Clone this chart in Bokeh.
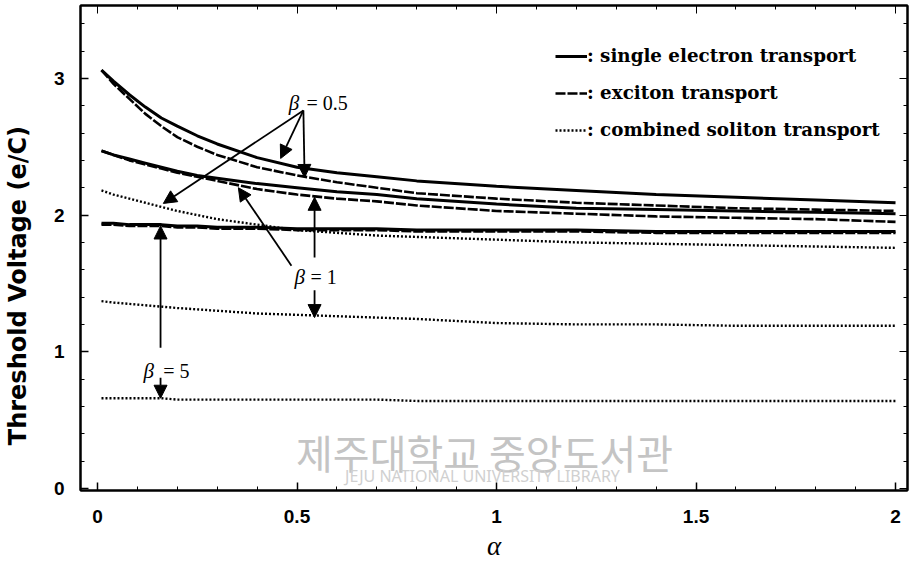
from bokeh.plotting import figure
from bokeh.models import (Range1d, LinearAxis, Label, Arrow, NormalHead, Legend,
                          LegendItem, FixedTicker, CustomLabelingPolicy)
from bokeh.embed import file_html
from bokeh.resources import INLINE

# ---- data ----
alpha = [0.01, 0.04, 0.08, 0.12, 0.16, 0.2, 0.25, 0.3, 0.4, 0.5, 0.6, 0.7, 0.8,
         1.0, 1.2, 1.4, 1.6, 1.8, 2.0]
single_b05 = [3.06, 2.98, 2.88, 2.79, 2.71, 2.65, 2.58, 2.52, 2.42, 2.35, 2.31, 2.28,
              2.25, 2.21, 2.18, 2.15, 2.13, 2.11, 2.09]
exciton_b05 = [3.06, 2.96, 2.85, 2.74, 2.65, 2.57, 2.50, 2.44, 2.35, 2.29, 2.24, 2.20,
               2.16, 2.12, 2.09, 2.07, 2.05, 2.04, 2.03]
single_b1 = [2.47, 2.44, 2.41, 2.38, 2.35, 2.32, 2.29, 2.27, 2.23, 2.20, 2.17, 2.15,
             2.12, 2.08, 2.05, 2.04, 2.03, 2.02, 2.01]
exciton_b1 = [2.47, 2.44, 2.40, 2.37, 2.34, 2.31, 2.28, 2.25, 2.19, 2.15, 2.12, 2.10,
              2.07, 2.03, 2.01, 1.99, 1.98, 1.97, 1.95]
combined_b05 = [2.18, 2.15, 2.12, 2.09, 2.06, 2.03, 2.00, 1.97, 1.93, 1.89, 1.87, 1.85,
                1.84, 1.82, 1.80, 1.79, 1.78, 1.77, 1.76]
single_b5 = [1.94, 1.94, 1.93, 1.93, 1.93, 1.92, 1.92, 1.91, 1.91, 1.90, 1.90, 1.90,
             1.89, 1.89, 1.89, 1.88, 1.88, 1.88, 1.88]
exciton_b5 = [1.93, 1.93, 1.92, 1.92, 1.92, 1.91, 1.91, 1.90, 1.90, 1.89, 1.89, 1.89,
              1.88, 1.88, 1.88, 1.87, 1.87, 1.87, 1.87]
combined_b1 = [1.37, 1.36, 1.35, 1.34, 1.33, 1.32, 1.31, 1.30, 1.28, 1.27, 1.26, 1.25,
               1.24, 1.21, 1.20, 1.20, 1.19, 1.19, 1.19]
combined_b5 = [0.66, 0.66, 0.66, 0.66, 0.66, 0.65, 0.65, 0.65, 0.65, 0.65, 0.65, 0.65,
               0.64, 0.64, 0.64, 0.64, 0.64, 0.64, 0.64]

x_ticks = [0, 0.5, 1, 1.5, 2]
x_tick_labels = ["0", "0.5", "1", "1.5", "2"]
y_ticks = [0, 1, 2, 3]
x_minor = [i / 10 for i in range(0, 21)]
y_minor = [i / 5 for i in range(0, 18)]

legend_labels = [": single electron transport", ": exciton transport",
                 ": combined soliton transport"]

# annotation arrows: (x_start, y_start, x_end, y_end)
arrows_b05 = [(0.516, 2.765, 0.165, 2.085), (0.516, 2.765, 0.459, 2.414),
              (0.516, 2.765, 0.519, 2.275)]
arrows_b1 = [(0.486, 1.63, 0.353, 2.20), (0.544, 1.69, 0.544, 2.13),
             (0.544, 1.45, 0.544, 1.25)]
arrows_b5 = [(0.158, 1.03, 0.158, 1.92), (0.158, 0.81, 0.158, 0.66)]
beta_labels = [(0.479, 0.524, 2.82, "= 0.5"), (0.494, 0.534, 1.55, "= 1"),
               (0.115, 0.165, 0.86, "= 5")]

SANS = "Liberation Sans"
SERIF = "Liberation Serif"
HIDE_LABELS = "for (const i of indices) { indices.unset(i) } return indices"

p = figure(width=913, height=569, output_backend="svg", toolbar_location=None,
           x_range=Range1d(-0.0426, 2.030), y_range=Range1d(-0.015, 3.533),
           min_border_left=80, min_border_right=6, min_border_top=5,
           min_border_bottom=79)
p.background_fill_color = "white"
p.border_fill_color = "white"
p.outline_line_color = "black"
p.outline_line_width = 2
p.xgrid.visible = False
p.ygrid.visible = False

xa = p.xaxis[0]
xa.ticker = FixedTicker(ticks=x_ticks, minor_ticks=x_minor)
xa.major_label_overrides = {t: l for t, l in zip(x_ticks, x_tick_labels)}
ya = p.yaxis[0]
ya.ticker = FixedTicker(ticks=y_ticks, minor_ticks=y_minor)

for ax in (xa, ya):
    ax.axis_line_width = 2
    ax.major_tick_in = 8
    ax.major_tick_out = 0
    ax.minor_tick_in = 4
    ax.minor_tick_out = 0
    ax.major_tick_line_width = 1.5
    ax.major_label_text_font = SANS
    ax.major_label_text_font_style = "bold"
    ax.major_label_text_font_size = "19px"
    ax.major_label_text_color = "black"

xa.major_label_standoff = 19
ya.major_label_standoff = 16
xa.axis_label = "α"
xa.axis_label_text_font = SERIF
xa.axis_label_text_font_style = "italic"
xa.axis_label_text_font_size = "27px"
xa.axis_label_text_color = "black"
xa.axis_label_standoff = 5

ya.axis_label = "Threshold Voltage (e/C)" + "\u00a0" * 9
ya.axis_label_text_font = "DejaVu Sans"
ya.axis_label_text_font_style = "bold"
ya.axis_label_text_font_size = "24px"
ya.axis_label_text_color = "black"
ya.axis_label_standoff = 19

# mirror axes (ticks only)
top = LinearAxis(ticker=FixedTicker(ticks=x_ticks, minor_ticks=x_minor),
                 major_label_policy=CustomLabelingPolicy(code=HIDE_LABELS),
                 major_label_text_font_size="1px",
                 major_tick_in=8, major_tick_out=0,
                 minor_tick_in=4, minor_tick_out=0, axis_line_width=2,
                 major_label_standoff=0)
right = LinearAxis(ticker=FixedTicker(ticks=y_ticks, minor_ticks=y_minor),
                   major_label_policy=CustomLabelingPolicy(code=HIDE_LABELS),
                   major_label_text_font_size="1px",
                   major_tick_in=8, major_tick_out=0,
                   minor_tick_in=4, minor_tick_out=0, axis_line_width=2,
                   major_label_standoff=0)
p.add_layout(top, "above")
p.add_layout(right, "right")

# watermark
p.add_layout(Label(x=0.97, y=0.265, text="제주대학교 중앙도서관", text_align="center",
                   text_baseline="middle", text_font="Noto Sans CJK KR",
                   text_font_size="40px", text_color="#c4c4c4", level="underlay"))
p.add_layout(Label(x=0.97, y=0.008, text="JEJU NATIONAL UNIVERSITY  LIBRARY",
                   text_align="center", text_baseline="bottom", text_font="Noto Sans",
                   text_font_size="16px", text_color="#d0d0d0", level="underlay"))

# curves
r_single = p.line(alpha, single_b05, line_color="black", line_width=3)
p.line(alpha, single_b1, line_color="black", line_width=3)
p.line(alpha, single_b5, line_color="black", line_width=3)
r_exc = p.line(alpha, exciton_b05, line_color="black", line_width=2.6, line_dash="10 2")
p.line(alpha, exciton_b1, line_color="black", line_width=2.6, line_dash="10 2")
p.line(alpha, exciton_b5, line_color="black", line_width=2.6, line_dash="10 2")
r_comb = p.line(alpha, combined_b05, line_color="black", line_width=2.4, line_dash="2 2")
p.line(alpha, combined_b1, line_color="black", line_width=2.4, line_dash="2 2")
p.line(alpha, combined_b5, line_color="black", line_width=2.4, line_dash="2 2")

# arrows
for xs, ys, xe, ye in arrows_b05 + arrows_b1 + arrows_b5:
    p.add_layout(Arrow(x_start=xs, y_start=ys, x_end=xe, y_end=ye, line_width=1.8,
                       line_color="black",
                       end=NormalHead(size=13, fill_color="black", line_color="black")))

for xb, xt, yy, txt in beta_labels:
    p.add_layout(Label(x=xb, y=yy, text="β", text_font=SERIF, text_font_style="italic",
                       text_font_size="21px", text_baseline="middle", text_align="left",
                       text_color="black"))
    p.add_layout(Label(x=xt, y=yy, text=txt, text_font=SERIF, text_font_size="20px",
                       text_baseline="middle", text_align="left", text_color="black"))

legend = Legend(items=[LegendItem(label=legend_labels[0], renderers=[r_single]),
                       LegendItem(label=legend_labels[1], renderers=[r_exc]),
                       LegendItem(label=legend_labels[2], renderers=[r_comb])],
                location=(475, 350), glyph_width=32, glyph_height=20, label_height=20,
                label_standoff=0, spacing=16, padding=0, margin=0,
                border_line_color=None, background_fill_alpha=0,
                label_text_font="DejaVu Serif", label_text_font_style="bold",
                label_text_font_size="18.3px", label_text_color="black")
p.add_layout(legend)

open("out.html", "w").write(file_html(p, INLINE))
